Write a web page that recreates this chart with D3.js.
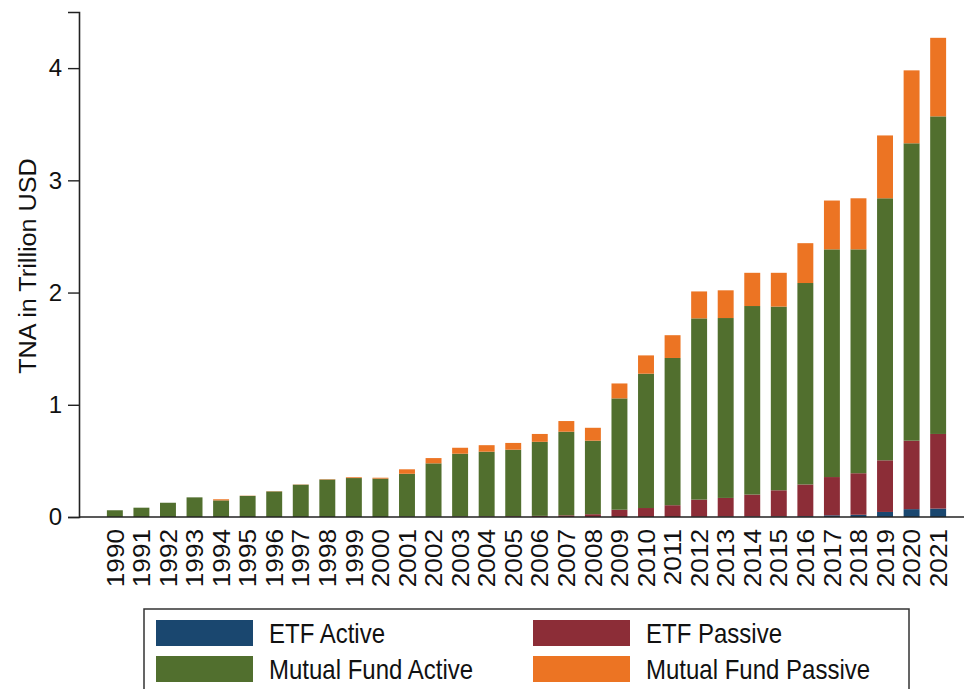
<!DOCTYPE html>
<html lang="en">
<head>
<meta charset="UTF-8">
<title>TNA by fund type</title>
<script src="https://d3js.org/d3.v7.min.js"></script>
<style>
    body { margin: 0; background: #fff; }
    svg text { font-family: "Liberation Sans", Arial, Helvetica, sans-serif; fill: #111; }
</style>
</head>
<body>
<div id="chart"></div>
<script>
    // data (trillion USD)
    const years = d3.range(1990, 2022).map(String);

    const etfActive = [0, 0, 0, 0, 0, 0, 0, 0, 0, 0, 0,
        0, 0, 0, 0, 0, 0, 0, 0, 0, 0, 0,
        0.002, 0.003, 0.004, 0.005, 0.007, 0.015, 0.02, 0.045, 0.07, 0.075];

    const etfPassive = [0, 0, 0, 0, 0, 0, 0, 0, 0, 0, 0,
        0.002, 0.003, 0.004, 0.005, 0.007, 0.01, 0.015, 0.025, 0.065, 0.08, 0.105,
        0.153, 0.167, 0.196, 0.233, 0.283, 0.341, 0.37, 0.46, 0.61, 0.665];

    const mfActive = [0.06, 0.083, 0.127, 0.175, 0.148, 0.188, 0.228, 0.288, 0.334, 0.347, 0.342,
        0.383, 0.475, 0.56, 0.577, 0.593, 0.66, 0.745, 0.655, 0.992, 1.197, 1.312,
        1.615, 1.603, 1.68, 1.637, 1.795, 2.029, 1.995, 2.335, 2.65, 2.83];

    const mfPassive = [0, 0, 0, 0, 0.01, 0.002, 0.002, 0.002, 0.003, 0.007, 0.008,
        0.04, 0.047, 0.053, 0.058, 0.06, 0.07, 0.095, 0.115, 0.133, 0.163, 0.203,
        0.24, 0.247, 0.296, 0.301, 0.355, 0.435, 0.455, 0.56, 0.65, 0.70];

    const seriesNames = ["ETF Active", "ETF Passive", "Mutual Fund Active", "Mutual Fund Passive"];
    const yTicks = [0, 1, 2, 3, 4];

    const colors = {
        "ETF Active": "#1a476f",
        "ETF Passive": "#8c2d37",
        "Mutual Fund Active": "#516f2e",
        "Mutual Fund Passive": "#ec7423"
    };

    // build rows for d3.stack
    const table = years.map((yr, i) => ({
        year: yr,
        "ETF Active": etfActive[i],
        "ETF Passive": etfPassive[i],
        "Mutual Fund Active": mfActive[i],
        "Mutual Fund Passive": mfPassive[i]
    }));

    const width = 964;
    const height = 689;
    const axisX = 79;
    const baseY = 517;

    const svg = d3.select("#chart")
        .append("svg")
        .attr("width", width)
        .attr("height", height);

    const x = d3.scaleBand()
        .domain(years)
        .range([axisX, 974])
        .paddingInner(0.4)
        .paddingOuter(1.05);

    const y = d3.scaleLinear()
        .domain([0, 4.5])
        .range([baseY, 12]);

    const stacked = d3.stack().keys(seriesNames)(table);

    svg.append("g")
        .selectAll("g")
        .data(stacked)
        .join("g")
        .attr("fill", d => colors[d.key])
        .selectAll("rect")
        .data(d => d)
        .join("rect")
        .attr("x", d => x(d.data.year))
        .attr("width", x.bandwidth())
        .attr("y", d => y(d[1]))
        .attr("height", d => Math.max(0, y(d[0]) - y(d[1])));

    // y axis
    const yAxis = svg.append("g")
        .attr("transform", `translate(${axisX},0)`)
        .call(d3.axisLeft(y).tickValues(yTicks).tickSize(11).tickPadding(6).tickFormat(d3.format("d")));
    yAxis.select(".domain").attr("stroke", "#222").attr("stroke-width", 1.6);
    yAxis.selectAll(".tick line").attr("stroke", "#222").attr("stroke-width", 1.4);
    yAxis.selectAll(".tick text").style("font-size", "24px").attr("fill", "#111");

    // x axis (bottom line + rotated year labels)
    svg.append("line")
        .attr("x1", axisX).attr("x2", width)
        .attr("y1", baseY).attr("y2", baseY)
        .attr("stroke", "#222")
        .attr("stroke-width", 1.6);

    // the source picture is a little stretched vertically, so text gets scale(1, k)
    svg.append("g")
        .selectAll("text")
        .data(years)
        .join("text")
        .attr("transform", d => `translate(${x(d) + x.bandwidth() / 2},529) scale(1,1.09) rotate(-90)`)
        .attr("text-anchor", "end")
        .attr("dy", "0.36em")
        .style("font-size", "24px")
        .text(d => d);

    svg.append("text")
        .attr("transform", `translate(27,266) scale(1,1.05) rotate(-90)`)
        .attr("text-anchor", "middle")
        .attr("dy", "0.36em")
        .style("font-size", "24px")
        .text("TNA in Trillion USD");

    // legend
    const legend = svg.append("g");
    legend.append("rect")
        .attr("x", 144).attr("y", 609)
        .attr("width", 765).attr("height", 100)
        .attr("fill", "#fff")
        .attr("stroke", "#333")
        .attr("stroke-width", 1.5);

    const legendPos = [
        { key: "ETF Active", x: 156, y: 620 },
        { key: "ETF Passive", x: 533, y: 620 },
        { key: "Mutual Fund Active", x: 156, y: 656 },
        { key: "Mutual Fund Passive", x: 533, y: 656 }
    ];

    const item = legend.selectAll("g.item")
        .data(legendPos)
        .join("g")
        .attr("class", "item")
        .attr("transform", d => `translate(${d.x},${d.y})`);

    item.append("rect")
        .attr("width", 97)
        .attr("height", 26)
        .attr("fill", d => colors[d.key]);

    item.append("text")
        .attr("transform", "translate(113,13) scale(1,1.15)")
        .attr("dy", "0.36em")
        .style("font-size", "24px")
        .text(d => d.key);
</script>
</body>
</html>
